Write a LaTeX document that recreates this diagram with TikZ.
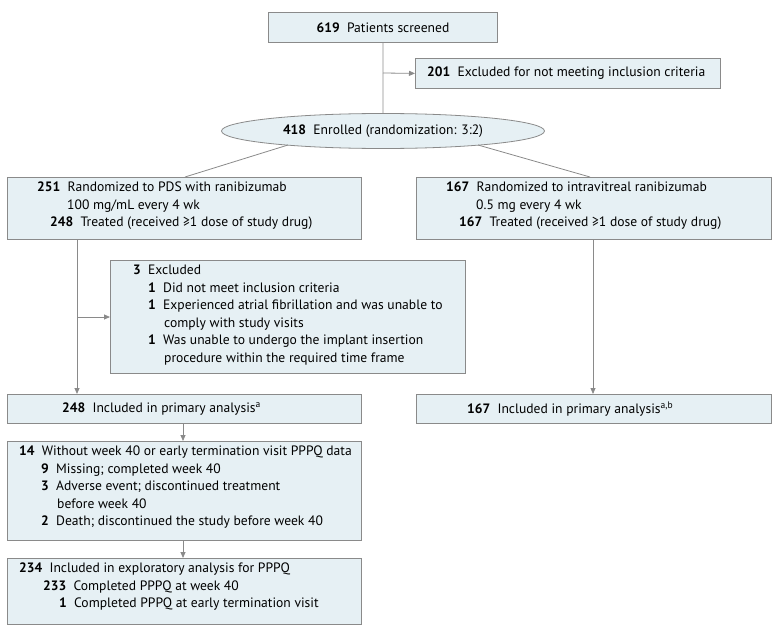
\documentclass[tikz,border=0pt]{standalone}
\usepackage{fontspec}
\setmainfont{PT Sans}
\usetikzlibrary{shapes.geometric,arrows.meta}
\definecolor{boxfill}{HTML}{E6F0F4}
\definecolor{boxline}{HTML}{8A8A8A}
\newcommand{\num}[1]{\textbf{#1}}
\tikzset{
  box/.style={draw=boxline,fill=boxfill,line width=0.8pt,anchor=north west,inner sep=0pt},
  txt/.style={anchor=north west,align=left,font=\fontsize{13.6}{17.5}\selectfont,inner sep=0pt},
  link/.style={draw=boxline,line width=0.8pt},
  arr/.style={link,-{Triangle[length=6pt,width=5pt]}}
}
\begin{document}
\begin{tikzpicture}[x=1pt,y=-1pt]
\useasboundingbox (0,0) rectangle (780,634);

% boxes
\node[box,minimum width=229,minimum height=30] (scr) at (268,12) {};
\node[box,minimum width=305,minimum height=30] (exc) at (415,58) {};
\node[ellipse,draw=boxline,fill=boxfill,line width=0.8pt,minimum width=323,minimum height=35,inner sep=0pt] (enr) at (383,131) {};
\node[box,minimum width=354,minimum height=62] (pds) at (7,177) {};
\node[box,minimum width=355,minimum height=62] (ivr) at (416,177) {};
\node[box,minimum width=355,minimum height=113] (ex3) at (110,260) {};
\node[box,minimum width=354,minimum height=29] (prl) at (7,394) {};
\node[box,minimum width=355,minimum height=29] (prr) at (416,394) {};
\node[box,minimum width=354,minimum height=99] (wo) at (7,441) {};
\node[box,minimum width=354,minimum height=66] (exp) at (7,558) {};

% texts
\node[txt,anchor=center] (t1) at (383,28) {\num{619}\ \ Patients screened};
\node[txt,anchor=west] (t2) at (427,73) {\num{201}\ \ Excluded for not meeting inclusion criteria};
\node[txt,anchor=center] (t3) at (383,131) {\num{418}\ \ Enrolled (randomization: 3:2)};
\node[txt] (t4) at (37,182) {\num{251}\ \ Randomized to PDS with ranibizumab\\
  \hspace*{30pt}100 mg/mL every 4 wk\\
  \hspace*{13pt}\num{248}\ \ Treated (received ≥1 dose of study drug)};
\node[txt] (t5) at (446,182) {\num{167}\ \ Randomized to intravitreal ranibizumab\\
  \hspace*{30pt}0.5 mg every 4 wk\\
  \hspace*{13pt}\num{167}\ \ Treated (received ≥1 dose of study drug)};
\node[txt] (t6) at (133,265) {\num{3}\ \ Excluded\\
  \hspace*{15pt}\num{1}\ \ Did not meet inclusion criteria\\
  \hspace*{15pt}\num{1}\ \ Experienced atrial fibrillation and was unable to\\
  \hspace*{31pt}comply with study visits\\
  \hspace*{15pt}\num{1}\ \ Was unable to undergo the implant insertion\\
  \hspace*{31pt}procedure within the required time frame};
\node[txt,anchor=west] (t7) at (62,409) {\num{248}\ \ Included in primary analysis\textsuperscript{a}};
\node[txt,anchor=west] (t8) at (467,409) {\num{167}\ \ Included in primary analysis\textsuperscript{a,b}};
\node[txt] (t9) at (19,446) {\num{14}\ \ Without week 40 or early termination visit PPPQ data\\
  \hspace*{22pt}\num{9}\ \ Missing; completed week 40\\
  \hspace*{22pt}\num{3}\ \ Adverse event; discontinued treatment\\
  \hspace*{38pt}before week 40\\
  \hspace*{22pt}\num{2}\ \ Death; discontinued the study before week 40};
\node[txt] (t10) at (19,563) {\num{234}\ \ Included in exploratory analysis for PPPQ\\
  \hspace*{24pt}\num{233}\ \ Completed PPPQ at week 40\\
  \hspace*{40pt}\num{1}\ \ Completed PPPQ at early termination visit};

% connectors
\coordinate (b1) at (383,73);
\coordinate (b2) at (77,317);
\draw[link] (scr.south) -- (enr.north);
\draw[arr] (b1) -- (exc.west);
\draw[link] (enr) ++(-95,14) -- (185,177);
\draw[link] (enr) ++(95,14) -- (590,177);
\draw[arr] (pds.south -| b2) -- (prl.north -| b2);
\draw[arr] (b2) -- (b2 -| ex3.west);
\draw[arr] (ivr.south -| 593,0) -- (prr.north -| 593,0);
\draw[arr] (prl.south -| 183,0) -- (wo.north -| 183,0);
\draw[arr] (wo.south -| 183,0) -- (exp.north -| 183,0);
\end{tikzpicture}
\end{document}
